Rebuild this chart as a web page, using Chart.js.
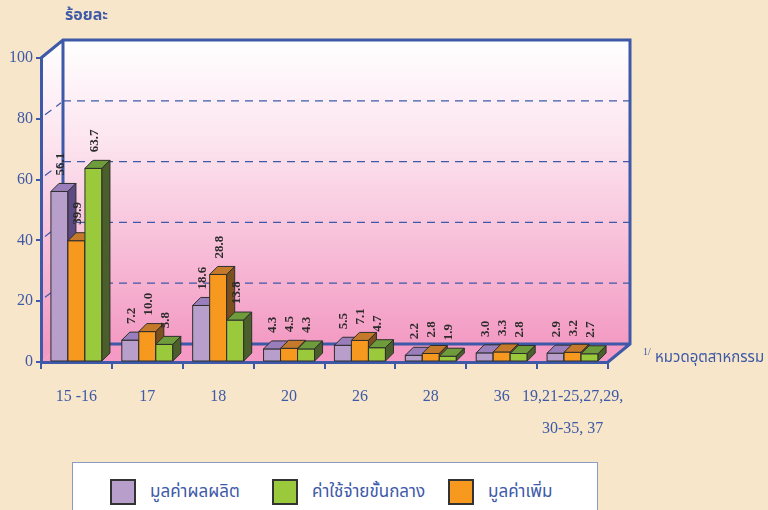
<!DOCTYPE html>
<html>
<head>
<meta charset="utf-8">
<script src="https://cdn.jsdelivr.net/npm/chart.js@4"></script>
<style>
  html, body { margin: 0; padding: 0; background: #F7E6C9; overflow: hidden; }
  #wrap { position: relative; width: 768px; height: 510px; }
  #legend { position: absolute; left: 72px; top: 462px; width: 526px; height: 70px;
            background: #fff; border: 1px solid #8C9BC6; box-sizing: border-box; }
  .item { position: absolute; top: 16px; display: flex; align-items: center;
          font: 17px "Noto Sans Thai", "Noto Sans", sans-serif; color: #3D59A8; }
  .sw { width: 22px; height: 22px; border: 2px solid #333; margin-right: 14px; }
</style>
</head>
<body>
<div id="wrap">
  <canvas id="chart" width="768" height="510"></canvas>
  <div id="legend"></div>
</div>
<script>
// data
const categories = ['15 -16', '17', '18', '20', '26', '28', '36', ['19,21-25,27,29,', '30-35, 37']];
const outputValue = [56.1, 7.2, 18.6, 4.3, 5.5, 2.2, 3.0, 2.9];       // มูลค่าผลผลิต
const valueAdded = [39.9, 10.0, 28.8, 4.5, 7.1, 2.8, 3.3, 3.2];        // มูลค่าเพิ่ม
const intermediateCost = [63.7, 5.8, 13.8, 4.3, 4.7, 1.9, 2.8, 2.7];  // ค่าใช้จ่ายขั้นกลาง
const yTicks = [0, 20, 40, 60, 80, 100];
const gridValues = [20, 40, 60, 80];

const BLUE = '#3D59A8';
const WALL = { dx: 22, dy: -18 };
const BD = 8; // bar depth

const series = [
  { label: 'มูลค่าผลผลิต', data: outputValue, front: '#B89FCB', top: '#9A7EBB', side: '#5E4A82' },
  { label: 'มูลค่าเพิ่ม', data: valueAdded, front: '#F7991E', top: '#C57A2B', side: '#7C4F1F' },
  { label: 'ค่าใช้จ่ายขั้นกลาง', data: intermediateCost, front: '#9ACA3C', top: '#6F9C3B', side: '#4B5F2A' }
];

// legend order in the picture: output, intermediate, value added
const legendOrder = [0, 2, 1];
const legendLeft = [37, 199, 375];
const legend = document.getElementById('legend');
legendOrder.forEach((si, k) => {
  const it = document.createElement('div');
  it.className = 'item';
  it.style.left = legendLeft[k] + 'px';
  it.innerHTML = `<span class="sw" style="background:${series[si].front}"></span>${series[si].label}`;
  legend.appendChild(it);
});

const wallPlugin = {
  id: 'wall3d',
  beforeDraw(chart) {
    const ctx = chart.ctx;
    const { left, right, top, bottom } = chart.chartArea;
    const y = chart.scales.y;
    const bl = left + WALL.dx, br = right + WALL.dx, bt = top + WALL.dy, bb = bottom + WALL.dy;
    ctx.save();
    const g = ctx.createLinearGradient(0, bt, 0, bb);
    g.addColorStop(0, '#FFFFFF');
    g.addColorStop(0.35, '#FCE3EE');
    g.addColorStop(1, '#F39AC3');
    ctx.fillStyle = g;
    // side wall
    ctx.beginPath();
    ctx.moveTo(left, top); ctx.lineTo(bl, bt); ctx.lineTo(bl, bb); ctx.lineTo(left, bottom);
    ctx.closePath(); ctx.fill();
    // back wall
    ctx.fillRect(bl, bt, br - bl, bb - bt);
    // floor
    ctx.fillStyle = '#F49AC4';
    ctx.beginPath();
    ctx.moveTo(left, bottom); ctx.lineTo(right, bottom); ctx.lineTo(br, bb); ctx.lineTo(bl, bb);
    ctx.closePath(); ctx.fill();
    // dashed grid
    ctx.strokeStyle = BLUE; ctx.lineWidth = 1.2; ctx.setLineDash([8, 6]);
    gridValues.forEach(v => {
      const py = y.getPixelForValue(v);
      ctx.beginPath(); ctx.moveTo(bl, py + WALL.dy); ctx.lineTo(br, py + WALL.dy); ctx.stroke();
      ctx.beginPath(); ctx.moveTo(left + 4, py - 4); ctx.lineTo(bl - 2, py + WALL.dy + 2); ctx.stroke();
    });
    ctx.setLineDash([]);
    // frame
    ctx.lineWidth = 3;
    ctx.beginPath();
    ctx.moveTo(left, top); ctx.lineTo(bl, bt); ctx.lineTo(br, bt); ctx.lineTo(br, bb); ctx.lineTo(right, bottom);
    ctx.moveTo(bl, bt); ctx.lineTo(bl, bb); ctx.lineTo(br, bb);
    ctx.stroke();
    // titles
    ctx.fillStyle = BLUE;
    ctx.font = 'bold 16px "Noto Sans Thai", "Noto Sans", sans-serif';
    ctx.textBaseline = 'middle';
    ctx.fillText('ร้อยละ', 65, 17);
    ctx.font = '10px "Liberation Serif", serif';
    ctx.fillText('1/', 643, 352);
    ctx.font = '15px "Noto Sans Thai", "Noto Sans", sans-serif';
    ctx.fillText('หมวดอุตสาหกรรม', 655, 359);
    ctx.restore();
  },
  afterDatasetsDraw(chart) {
    const ctx = chart.ctx;
    ctx.save();
    ctx.lineWidth = 1; ctx.strokeStyle = '#2E2E2E'; ctx.lineJoin = 'round';
    const poly = (pts, fill) => {
      ctx.beginPath();
      ctx.moveTo(pts[0][0], pts[0][1]);
      for (let k = 1; k < pts.length; k++) ctx.lineTo(pts[k][0], pts[k][1]);
      ctx.closePath(); ctx.fillStyle = fill; ctx.fill(); ctx.stroke();
    };
    categories.forEach((_, i) => {
      series.forEach((s, d) => {
        const el = chart.getDatasetMeta(d).data[i];
        const { x, y, base, width } = el.getProps(['x', 'y', 'base', 'width'], true);
        const l = x - width / 2, r = x + width / 2;
        poly([[l, y], [r, y], [r, base], [l, base]], s.front);
        poly([[l, y], [l + BD, y - BD], [r + BD, y - BD], [r, y]], s.top);
        poly([[r, y], [r + BD, y - BD], [r + BD, base - BD], [r, base]], s.side);
      });
    });
    // value labels, rotated
    ctx.fillStyle = '#2B2B2B';
    ctx.font = 'bold 13px "Liberation Serif", serif';
    ctx.textBaseline = 'middle';
    ctx.textAlign = 'left';
    series.forEach((s, d) => {
      chart.getDatasetMeta(d).data.forEach((el, i) => {
        const { x, y } = el.getProps(['x', 'y'], true);
        ctx.save();
        ctx.translate(x + 1, y - BD - 8);
        ctx.rotate(-Math.PI / 2);
        ctx.fillText(s.data[i].toFixed(1), 0, 0);
        ctx.restore();
      });
    });
    ctx.restore();
  }
};

new Chart(document.getElementById('chart'), {
  type: 'bar',
  data: {
    labels: categories,
    datasets: series.map(s => ({
      label: s.label,
      data: s.data,
      backgroundColor: s.front,
      borderColor: '#2E2E2E',
      borderWidth: 1,
      categoryPercentage: 0.72,
      barPercentage: 1
    }))
  },
  options: {
    responsive: false,
    animation: false,
    layout: { padding: { top: 58, right: 160, left: 0, bottom: 0 } },
    plugins: { legend: { display: false }, tooltip: { enabled: false } },
    scales: {
      x: {
        afterFit: s => { s.height = 148; },
        grid: { drawOnChartArea: false, drawTicks: true, tickLength: 7, color: BLUE, lineWidth: 2 },
        border: { display: true, color: BLUE, width: 3 },
        ticks: {
          color: BLUE, padding: 12, maxRotation: 0, autoSkip: false,
          font: { family: '"Liberation Serif", serif', size: 16, lineHeight: 2 }
        }
      },
      y: {
        min: 0, max: 100,
        afterFit: s => { s.width = 41; },
        afterBuildTicks: s => { s.ticks = yTicks.map(v => ({ value: v })); },
        grid: { drawOnChartArea: false, drawTicks: true, tickLength: 5, color: BLUE, lineWidth: 2 },
        border: { display: true, color: BLUE, width: 3 },
        ticks: {
          color: BLUE, padding: 3,
          font: { family: '"Liberation Serif", serif', size: 16 }
        }
      }
    }
  },
  plugins: [wallPlugin]
});
</script>
</body>
</html>
